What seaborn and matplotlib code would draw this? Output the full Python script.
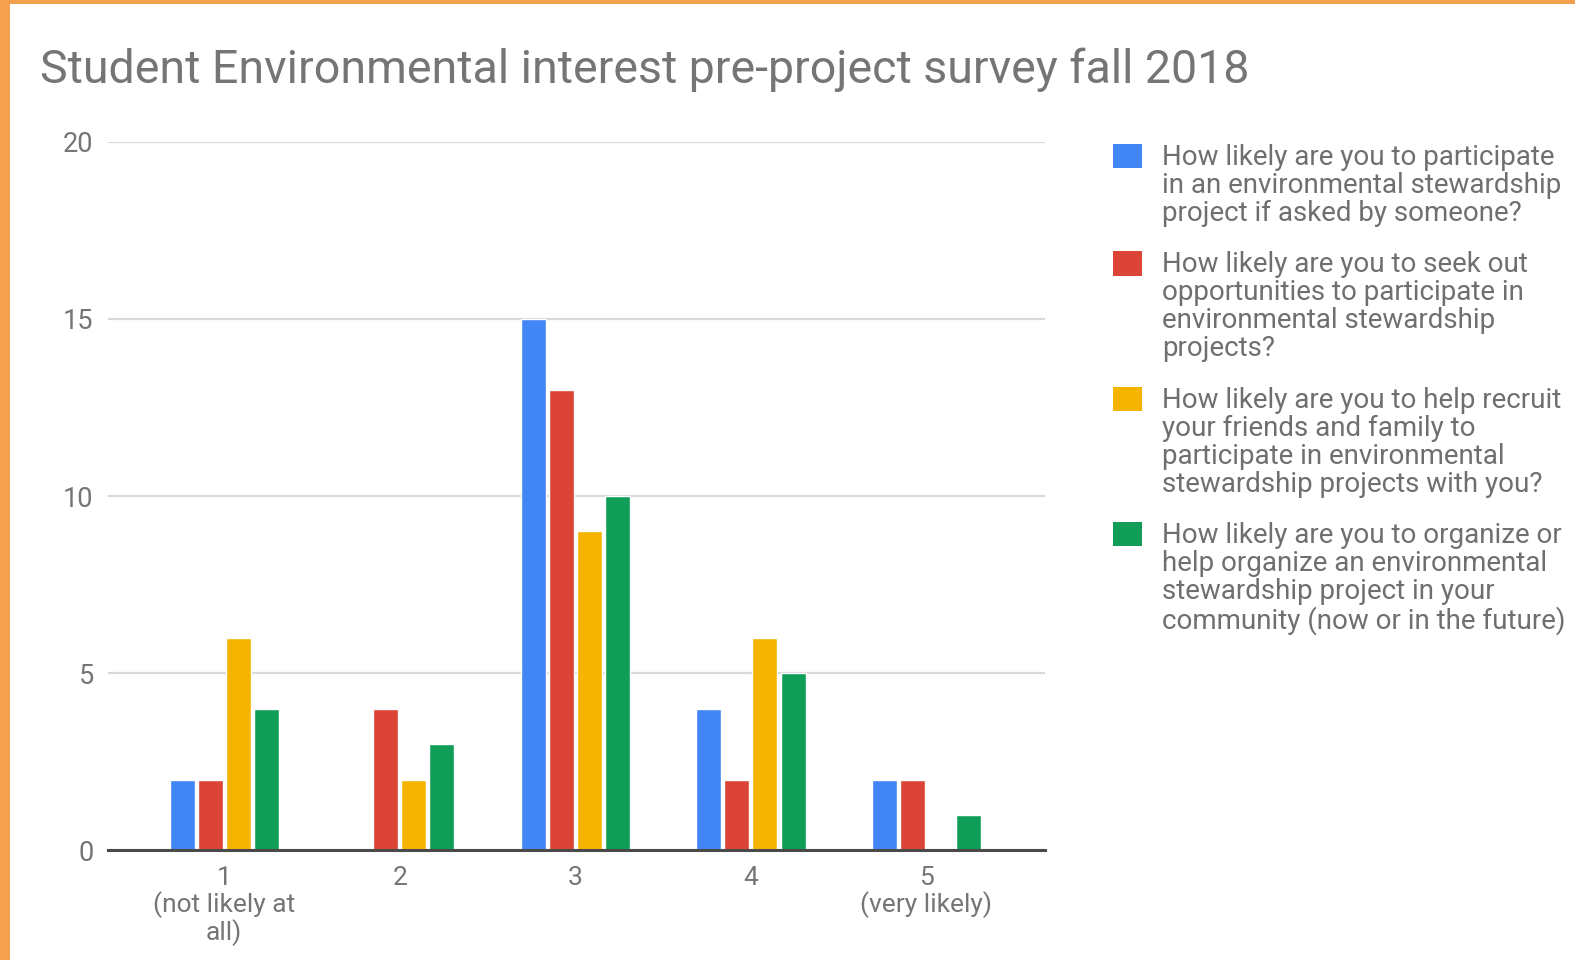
import matplotlib
matplotlib.use("Agg")
import matplotlib.pyplot as plt
from matplotlib.patches import Rectangle, Patch
import seaborn as sns
import pandas as pd

# Survey answers (1 = not likely at all ... 5 = very likely)
ratings = ["1\n(not likely at\nall)", "2", "3", "4", "5\n(very likely)"]
questions = [
    "How likely are you to participate\nin an environmental stewardship\nproject if asked by someone?",
    "How likely are you to seek out\nopportunities to participate in\nenvironmental stewardship\nprojects?",
    "How likely are you to help recruit\nyour friends and family to\nparticipate in environmental\nstewardship projects with you?",
    "How likely are you to organize or\nhelp organize an environmental\nstewardship project in your\ncommunity (now or in the future)",
]
asked_by_someone = [2, 0, 15, 4, 2]
seek_out = [2, 4, 13, 2, 2]
recruit_friends = [6, 2, 9, 6, 0]
organize_project = [4, 3, 10, 5, 1]
colors = ["#4285F4", "#DB4437", "#F4B400", "#0F9D58"]
yticks = [0, 5, 10, 15, 20]

series = [asked_by_someone, seek_out, recruit_friends, organize_project]
rows = []
for q, vals in zip(questions, series):
    for r, v in zip(ratings, vals):
        rows.append({"rating": r, "question": q, "count": v})
df = pd.DataFrame(rows)

sns.set_theme(style="white")
plt.rcParams["font.family"] = ["Roboto", "DejaVu Sans"]

TEXT = "#757575"
fig = plt.figure(figsize=(15.75, 9.6), dpi=100)
fig.patch.set_facecolor("white")
ax = fig.add_axes([0.0683, 0.1141, 0.5952, 0.7384])

sns.barplot(data=df, x="rating", y="count", hue="question", order=ratings,
            hue_order=questions, palette=colors, width=0.64, gap=0.11,
            saturation=1, ax=ax, legend=False)

ax.set_xlim(-0.664, 4.675)
ax.set_ylim(0, 20)
ax.set_yticks(yticks)
ax.set_yticklabels([str(t) for t in yticks])
ax.set_xlabel("")
ax.set_ylabel("")
ax.grid(axis="y", color="#d9d9d9", linewidth=1.6)
ax.set_axisbelow(True)
for s in ["top", "right", "left"]:
    ax.spines[s].set_visible(False)
ax.spines["bottom"].set_color("#4a4a4a")
ax.spines["bottom"].set_linewidth(2.2)
ax.spines["bottom"].set_zorder(5)
ax.tick_params(axis="y", length=0, pad=10, labelsize=19.5, labelcolor=TEXT)
ax.tick_params(axis="x", length=0, pad=11, labelsize=19, labelcolor=TEXT)
for lbl in ax.get_xticklabels():
    lbl.set_linespacing(1.05)

handles = [Patch(facecolor=c, edgecolor="none") for c in colors]
leg = fig.legend(handles, questions, loc="upper left",
                 bbox_to_anchor=(0.7067, 0.850), frameon=False,
                 fontsize=20, handlelength=1.04, handleheight=0.97,
                 handletextpad=0.72, labelspacing=0.87, borderaxespad=0,
                 borderpad=0, labelcolor="#6f6f6f")
for t in leg.get_texts():
    t.set_linespacing(1.05)
for col in leg._legend_handle_box.get_children():
    for item in col.get_children():
        item.align = "top"

fig.text(0.0255, 0.914, "Student Environmental interest pre-project survey fall 2018",
         fontsize=33.5, color=TEXT, ha="left", va="baseline")

# Orange frame along the top and left edges
fig.patches.append(Rectangle((0, 0), 10 / 1575, 1, transform=fig.transFigure,
                             facecolor="#F5A04E", edgecolor="none", zorder=10))
fig.patches.append(Rectangle((0, 1 - 3.5 / 960), 1, 3.5 / 960, transform=fig.transFigure,
                             facecolor="#F5A04E", edgecolor="none", zorder=10))

fig.savefig("out.png", dpi=100, facecolor="white")
